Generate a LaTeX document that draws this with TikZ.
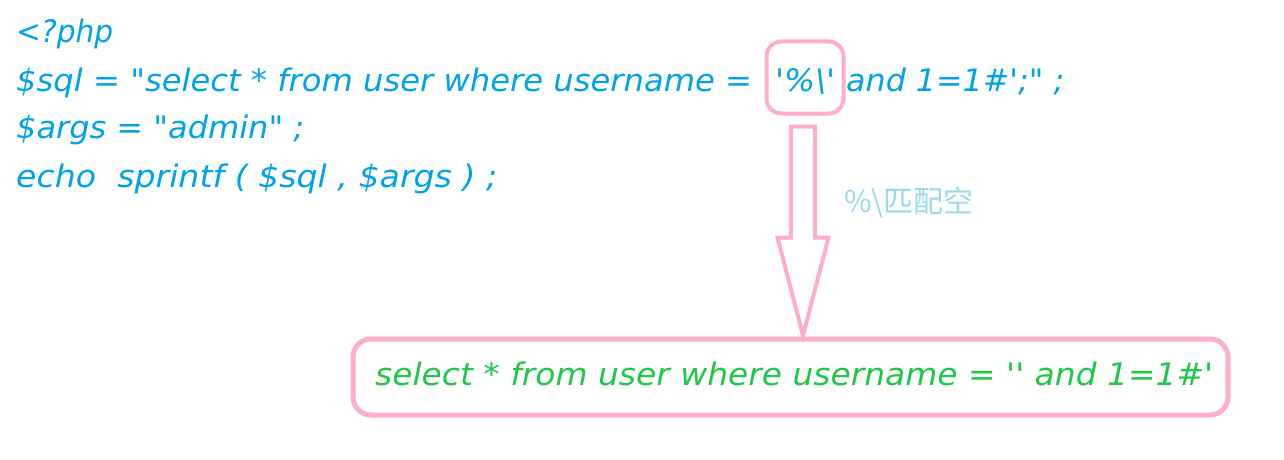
\documentclass[tikz,border=0pt]{standalone}
\usepackage{fontspec}
\usepackage{graphicx}
\newfontfamily\codefont{DejaVu Sans}
\newfontfamily\cjk{Noto Sans CJK SC}
\usetikzlibrary{calc}
\definecolor{codeblue}{RGB}{0,162,232}
\definecolor{rosepink}{RGB}{255,174,201}
\definecolor{resgreen}{RGB}{30,200,70}
\definecolor{lightblue}{RGB}{153,217,234}
\newcommand{\fitto}[2]{\resizebox{#1pt}{\height}{#2}}
\begin{document}
\begin{tikzpicture}[x=1pt,y=-1pt,
  codetext/.style={inner sep=0pt, anchor=base west, text=codeblue, font=\codefont\itshape\fontsize{31}{34}\selectfont},
  restext/.style={inner sep=0pt, anchor=base west, text=resgreen, font=\codefont\itshape\fontsize{31}{34}\selectfont},
  hlbox/.style={draw=rosepink, line width=4pt, rounded corners=15pt, inner sep=0pt},
  resbox/.style={draw=rosepink, line width=5pt, rounded corners=18pt, inner sep=0pt},
  bigarrow/.style={draw=rosepink, line width=4pt, line join=miter},
  note/.style={inner sep=0pt, text=lightblue, font=\cjk\fontsize{30}{32}\selectfont}]
\useasboundingbox (0,0) rectangle (1284,460);
\fill[white] (0,0) rectangle (1284,460);
% code lines
\node[codetext] (l1) at (16,42) {\fitto{97}{<?php}};
\node[codetext] (l2a) at (16,92) {\fitto{736}{\$sql = "select * from user where username =}};
\node[codetext] (l2b) at (775,92) {\fitto{60}{\textquotesingle\%\textbackslash\textquotesingle}};
\node[codetext] (l2c) at (846,92) {\fitto{218}{and 1=1\#\textquotesingle;" ;}};
\node[codetext] (l3) at (16,138) {\fitto{288}{\$args = "admin" ;}};
\node[codetext] (l4) at (16,187) {\fitto{481}{echo\ \ sprintf ( \$sql , \$args ) ;}};
% highlight box
\node[hlbox, minimum width=77pt, minimum height=72pt] (hl) at (805,77.5) {};
% result box
\node[resbox, minimum width=875pt, minimum height=76pt] (res) at (790.5,377) {};
\node[restext] (rt) at (375,385) {\fitto{838}{select * from user where username = \textquotesingle\textquotesingle\ and 1=1\#\textquotesingle}};
% arrow
\coordinate (ta) at ($(hl.south)+(-2,11)$);
\coordinate (tb) at ($(res.north)+(12.5,-1)$);
\draw[bigarrow] ($(ta)+(-12,0)$) -- ($(ta)+(12,0)$) -- ($(ta)+(12,111)$) -- ($(ta)+(25.5,111)$)
  -- (tb) -- ($(ta)+(-25.5,111)$) -- ($(ta)+(-12,111)$) -- cycle;
% note
\node[note, anchor=west] (lbl) at (844,202) {\%\textbackslash 匹配空};
\end{tikzpicture}
\end{document}
